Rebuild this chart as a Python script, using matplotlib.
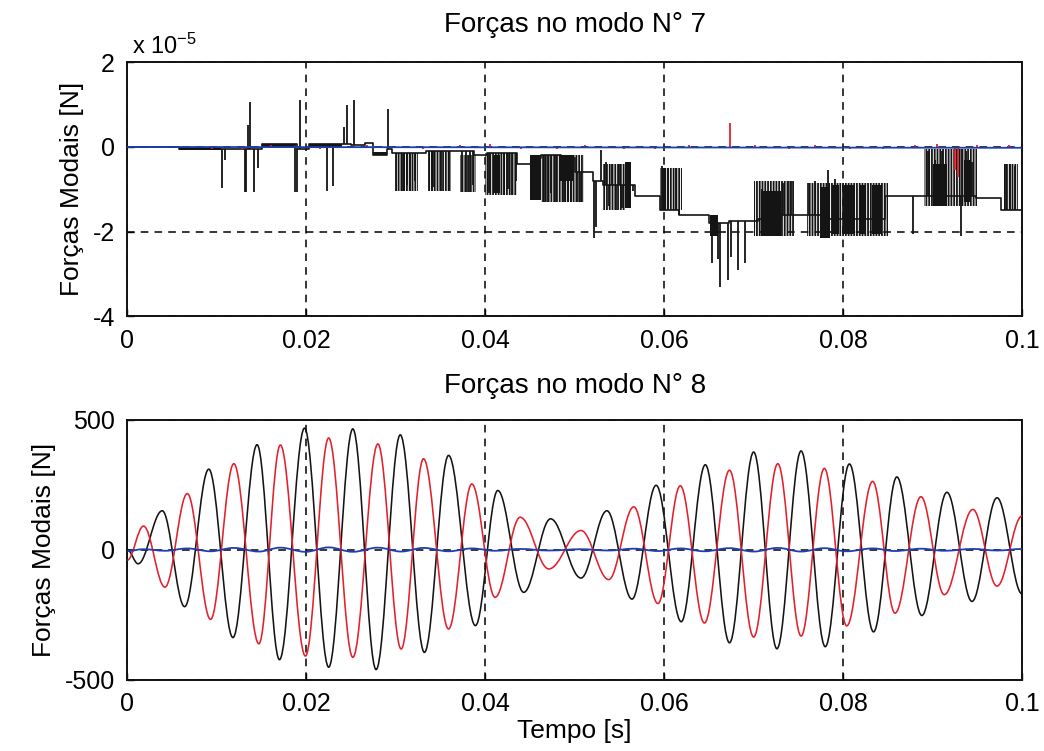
import numpy as np
import matplotlib
matplotlib.use('Agg')
import matplotlib.pyplot as plt
from matplotlib.path import Path
from matplotlib.patches import PathPatch

plt.rcParams['font.family'] = ['Liberation Sans', 'DejaVu Sans']
plt.rcParams['mathtext.fontset'] = 'custom'
plt.rcParams['mathtext.rm'] = 'Liberation Sans'
plt.rcParams['mathtext.it'] = 'Liberation Sans:italic'
plt.rcParams['hatch.linewidth'] = 1.3

# ---------------- modo 7 (valores em 1e-5 N) ----------------
# nivel de base (degraus) da forca modal preta
base7_t = [0.0, 0.0058, 0.0150, 0.0190, 0.0203, 0.0250, 0.0266, 0.0274, 0.0290, 0.0296,
           0.0334, 0.0357, 0.0387, 0.0402, 0.0436, 0.0451, 0.0462, 0.0485, 0.0500, 0.0520,
           0.0532, 0.0567, 0.0595, 0.0616, 0.0650, 0.0672, 0.0705, 0.0731, 0.0761, 0.0783,
           0.0847, 0.0895, 0.0948, 0.0976]
base7_v = [0.0, -0.05, 0.08, -0.05, 0.08, 0.05, 0.1, -0.2, -0.05, -0.15,
           -0.1, -0.1, -0.2, -0.15, -0.4, -0.25, -0.2, -0.25, -0.6, -0.8,
           -0.9, -1.15, -1.5, -1.6, -1.8, -1.75, -1.7, -1.6, -1.6, -1.7,
           -1.15, -1.15, -1.2, -1.5]

# picos (saltos) da curva preta
spk7_t = [0.0106, 0.0109, 0.0131, 0.0133, 0.0135, 0.0137, 0.0142, 0.0146, 0.0187, 0.0190,
          0.0193, 0.0223, 0.0230, 0.0242, 0.0245, 0.0253, 0.0291, 0.0300, 0.0307, 0.0309,
          0.0313, 0.0316, 0.0322, 0.0337, 0.0341, 0.0342, 0.0351, 0.0359, 0.0374, 0.0378,
          0.0383, 0.0386, 0.0404, 0.0421, 0.0425, 0.0430, 0.0434, 0.0466, 0.0470, 0.0474,
          0.0479, 0.0488, 0.0492, 0.0496, 0.0503, 0.0507, 0.0521, 0.0524, 0.0529, 0.0535,
          0.0538, 0.0542, 0.0546, 0.0549, 0.0553, 0.0565, 0.0598, 0.0604, 0.0608, 0.0613,
          0.0617, 0.0653, 0.0660, 0.0662, 0.0671, 0.0675, 0.0683, 0.0690, 0.0709, 0.0733,
          0.0738, 0.0742, 0.0762, 0.0769, 0.0783, 0.0791, 0.0878, 0.0895, 0.0903, 0.0911,
          0.0932, 0.0933, 0.0937, 0.0944, 0.0982, 0.0987, 0.0992]
spk7_v = [-0.98, -0.3, -1.06, -1.06, 0.52, 1.07, -1.06, -0.5, -1.06, -1.06,
          1.1, -1.04, -0.92, 0.48, 0.99, 1.1, 0.9, -1.05, -1.05, -1.05,
          -0.9, -1.05, -0.8, -1.05, -1.05, -0.95, -1.05, -1.05, -1.06, -1.06,
          -1.06, -0.9, -1.1, -1.14, -1.0, -1.14, -0.8, -1.3, -1.3, -1.1,
          -1.3, -1.3, -1.3, -1.3, -1.3, -1.3, -2.15, -1.9, -0.08, -0.35,
          -1.4, -0.4, -1.5, -0.4, -1.45, -1.05, -0.45, -0.5, -1.5, -0.5,
          -1.5, -2.75, -2.65, -3.3, -3.15, -2.6, -2.9, -2.75, -1.0, -0.85,
          -0.8, -0.8, -0.85, -0.8, -0.55, -0.75, -2.05, -0.1, -0.3, -0.1,
          -2.1, -0.05, -0.1, -0.35, -0.4, -0.4, -0.45]

# trechos com chaveamento muito denso (quase preto)
blk7_t0 = [0.0058, 0.0150, 0.0203, 0.0274, 0.0409, 0.0450, 0.0484, 0.0556, 0.0597,
           0.0651, 0.0708, 0.0774, 0.0788, 0.0800, 0.0818, 0.0832, 0.0901, 0.0935]
blk7_t1 = [0.0105, 0.0186, 0.0240, 0.0290, 0.0417, 0.0462, 0.0499, 0.0563, 0.0602,
           0.0660, 0.0730, 0.0785, 0.0795, 0.0812, 0.0825, 0.0843, 0.0916, 0.0942]
blk7_lo = [-0.07, 0.0, 0.0, -0.2, -1.1, -1.25, -0.8, -1.45, -1.5,
           -2.1, -2.1, -2.15, -2.05, -2.05, -2.05, -2.05, -1.4, -1.3]
blk7_hi = [0.0, 0.07, 0.07, -0.12, -0.2, -0.2, -0.2, -0.35, -0.5,
           -1.6, -1.05, -0.95, -0.9, -0.9, -0.9, -0.9, -0.4, -0.3]

# trechos com chaveamento frequente (riscado)
mid7_t0 = [0.0300, 0.0337, 0.0372, 0.0400, 0.0462, 0.0532, 0.0595, 0.0700, 0.0760, 0.0890, 0.0980]
mid7_t1 = [0.0325, 0.0362, 0.0390, 0.0436, 0.0510, 0.0556, 0.0620, 0.0745, 0.0850, 0.0950, 0.0995]
mid7_lo = [-1.05, -1.05, -1.06, -1.14, -1.3, -1.5, -1.5, -2.1, -2.1, -1.4, -1.5]
mid7_hi = [-0.15, -0.1, -0.2, -0.15, -0.2, -0.4, -0.5, -0.8, -0.85, -0.05, -0.4]

# curva vermelha (quase nula)
red7_t = [0.0095, 0.0128, 0.0160, 0.0215, 0.0268, 0.0330, 0.0372, 0.0405, 0.0440, 0.0480,
          0.0512, 0.0555, 0.0590, 0.0628, 0.0674, 0.0702, 0.0740, 0.0768, 0.0808, 0.0845,
          0.0880, 0.0905, 0.0925, 0.0928, 0.0950, 0.0985]
red7_v = [-0.06, -0.05, 0.05, -0.05, 0.04, -0.06, 0.05, 0.06, -0.05, -0.04,
          0.04, -0.05, -0.06, 0.05, 0.57, 0.05, -0.06, 0.04, -0.05, -0.06,
          0.05, 0.06, -0.55, -0.7, 0.05, 0.04]

blue7_t = [0.0, 0.1]
blue7_v = [0.0, -0.02]

# ---------------- modo 8 (extremos lidos, N) ----------------
blk8_t = [0.0, 0.0012, 0.0039, 0.0064, 0.0091, 0.0118, 0.0145, 0.0170, 0.0198, 0.0225,
          0.0252, 0.0278, 0.0305, 0.0332, 0.0359, 0.0389, 0.0414, 0.0443, 0.0473, 0.0507,
          0.0536, 0.0564, 0.0591, 0.0619, 0.0646, 0.0673, 0.0700, 0.0726, 0.0753, 0.0780,
          0.0807, 0.0834, 0.0860, 0.0888, 0.0916, 0.0944, 0.0972, 0.1000]
blk8_v = [0, -54, 150, -219, 310, -338, 404, -423, 468, -452,
          465, -461, 442, -395, 363, -292, 228, -164, 119, -109,
          150, -190, 248, -277, 327, -358, 376, -381, 380, -373,
          330, -316, 280, -253, 221, -199, 200, -170]

red8_t = [0.0, 0.0018, 0.0042, 0.0067, 0.0093, 0.0119, 0.0147, 0.0171, 0.0199, 0.0225,
          0.0252, 0.0280, 0.0306, 0.0331, 0.0359, 0.0385, 0.0411, 0.0439, 0.0471, 0.0507,
          0.0538, 0.0566, 0.0593, 0.0618, 0.0645, 0.0673, 0.0700, 0.0727, 0.0753, 0.0779,
          0.0804, 0.0833, 0.0858, 0.0887, 0.0913, 0.0945, 0.0972, 0.1000]
red8_v = [-40, 91, -144, 216, -268, 331, -362, 403, -409, 430,
          -414, 407, -382, 350, -305, 253, -183, 125, -74, 74,
          -115, 165, -207, 246, -282, 306, -336, 331, -332, 313,
          -293, 263, -244, 204, -173, 155, -140, 130]

blue8_t = red8_t
blue8_v = [-5, 2, -4, 5, -6, 7, -7, 8, -8, 9,
           -8, 8, -7, 7, -6, 5, -4, 3, -3, 2,
           -3, 4, -5, 5, -6, 6, -7, 7, -7, 6,
           -6, 5, -5, 4, -4, 3, -3, 3]

xt = [0, 0.02, 0.04, 0.06, 0.08, 0.1]
xt_lab = ['0', '0.02', '0.04', '0.06', '0.08', '0.1']

K = '#141414'
R = '#e3202b'
B = '#1f3fb0'


def suave(ax, t, v, color, lw):
    # curva passando pelos extremos, tangente horizontal em cada um
    verts = [(t[0], v[0])]
    codes = [Path.MOVETO]
    for i in range(len(t) - 1):
        dt = t[i + 1] - t[i]
        verts += [(t[i] + 0.364 * dt, v[i]), (t[i + 1] - 0.364 * dt, v[i + 1]), (t[i + 1], v[i + 1])]
        codes += [Path.CURVE4] * 3
    ax.add_patch(PathPatch(Path(verts, codes), fill=False, edgecolor=color, lw=lw, zorder=3))


def estilo(ax):
    ax.set_xlim(0, 0.1)
    ax.set_xticks(xt)
    ax.set_xticklabels(xt_lab)
    ax.tick_params(direction='in', length=5, width=1, labelsize=18, pad=9)
    ax.grid(True, color='k', linestyle=(0, (5, 4)), linewidth=1.1)
    ax.set_axisbelow(True)
    for s in ax.spines.values():
        s.set_linewidth(1.4)
        s.set_color('#111111')


fig = plt.figure(figsize=(10.44, 7.51), dpi=100)

# ---- painel superior
ax1 = fig.add_axes([0.122, 0.579, 0.857, 0.338])
sc = 1e-5
bt = np.array(base7_t + [0.1])
bv = np.array(base7_v + [base7_v[-1]]) * sc
ax1.step(bt, bv, where='post', color=K, lw=1.2, zorder=2)
idx = np.searchsorted(base7_t, spk7_t, side='right') - 1
b_at = np.array(base7_v)[idx] * sc
ax1.vlines(spk7_t, b_at, np.array(spk7_v) * sc, color=K, lw=1.3, zorder=2)
ax1.bar(mid7_t0, (np.array(mid7_hi) - np.array(mid7_lo)) * sc,
        width=np.array(mid7_t1) - np.array(mid7_t0), bottom=np.array(mid7_lo) * sc,
        align='edge', facecolor='none', edgecolor=K, hatch='||||||', lw=0, zorder=2)
ax1.bar(blk7_t0, (np.array(blk7_hi) - np.array(blk7_lo)) * sc,
        width=np.array(blk7_t1) - np.array(blk7_t0), bottom=np.array(blk7_lo) * sc,
        align='edge', color=K, lw=0, zorder=2)
ax1.vlines(red7_t, 0, np.array(red7_v) * sc, color=R, lw=1.3, zorder=3)
ax1.plot(blue7_t, np.array(blue7_v) * sc, color=B, lw=1.3, zorder=4)
ax1.set_ylim(-4e-5, 2e-5)
ax1.set_yticks([-4e-5, -2e-5, 0, 2e-5])
ax1.set_yticklabels(['-4', '-2', '0', '2'])
estilo(ax1)
ax1.set_title('Forças no modo N° 7', fontsize=20, pad=22)
ax1.set_ylabel('Forças Modais [N]', fontsize=19, labelpad=6)
ax1.text(0.005, 1.015, 'x 10$^{-5}$', transform=ax1.transAxes, fontsize=17,
         ha='left', va='bottom')

# ---- painel inferior
ax2 = fig.add_axes([0.122, 0.095, 0.857, 0.346])
suave(ax2, blk8_t, blk8_v, K, 1.15)
suave(ax2, red8_t, red8_v, R, 1.15)
suave(ax2, blue8_t, blue8_v, B, 1.3)
ax2.set_ylim(-500, 500)
ax2.set_yticks([-500, 0, 500])
ax2.set_yticklabels(['-500', '0', '500'])
estilo(ax2)
ax2.set_title('Forças no modo N° 8', fontsize=20, pad=19)
ax2.set_ylabel('Forças Modais [N]', fontsize=19, labelpad=6)
ax2.set_xlabel('Tempo [s]', fontsize=19, labelpad=2)

fig.savefig('out.png', dpi=100)
